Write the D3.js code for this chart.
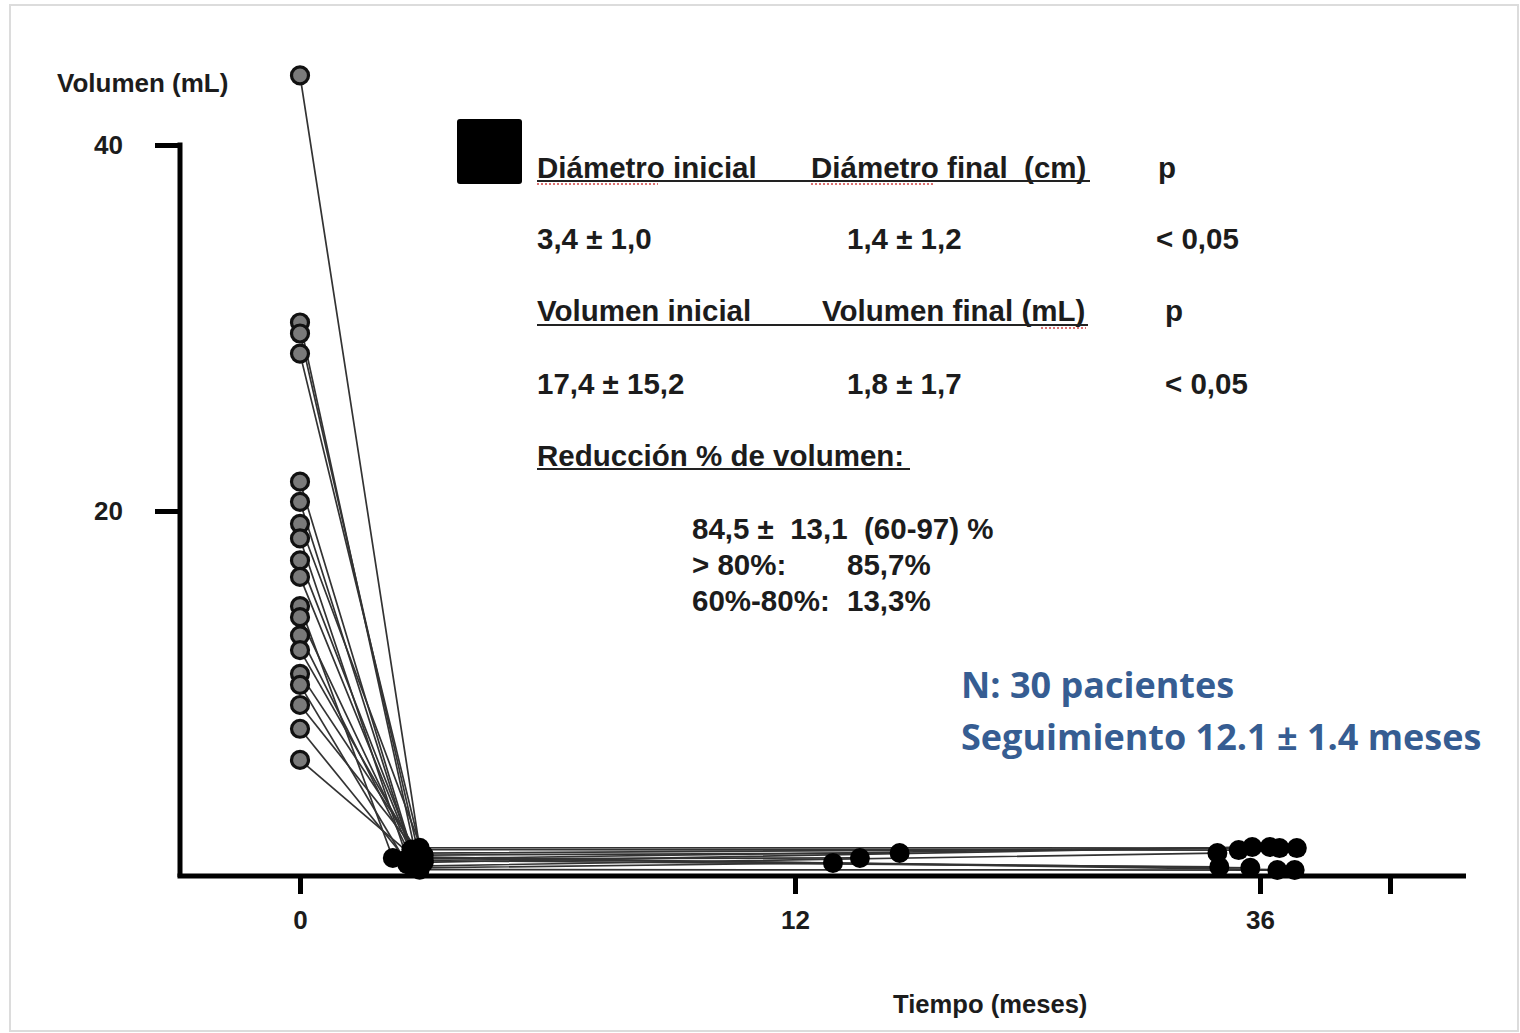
<!DOCTYPE html>
<html>
<head>
<meta charset="utf-8">
<script src="https://cdn.jsdelivr.net/npm/d3@7"></script>
<style>
  html, body { margin: 0; padding: 0; background: #ffffff; }
  svg { display: block; }
</style>
</head>
<body>
<svg id="chart" width="1520" height="1033"></svg>
<script>
// ---------------- DATA ----------------
const patientIds     = ["P1","P2","P3","P4","P5","P6","P7","P8","P9","P10","P11","P12","P13","P14","P15","P16","P17","P18","P19"];
// volume (mL) at time 0
const initialVolume  = [43.8, 30.3, 29.7, 28.6, 21.6, 20.5, 19.3, 18.5, 17.3, 16.4, 14.8, 14.2, 13.2, 12.4, 11.1, 10.5, 9.4, 8.1, 6.4];
// first control (months, mL)
const earlyMonth     = [2.9, 2.8, 2.9, 3.0, 2.7, 2.8, 3.0, 2.6, 2.9, 2.8, 2.25, 2.9, 2.7, 2.8, 3.0, 2.6, 2.9, 2.7, 2.8];
const earlyVolume    = [1.6, 1.3, 1.0, 0.8, 1.5, 0.6, 1.2, 1.0, 0.5, 0.9, 1.04, 0.4, 1.1, 1.4, 0.9, 0.7, 1.2, 0.6, 1.0];
// last control (months, mL) — null when not available
const lateMonth      = [39.4, 37.8, 36.9, 35.6, 34.9, 33.8, 17.4, 15.35, 13.96, 33.9, 35.5, 37.6, 39.2, null, null, null, null, null, null];
const lateVolume     = [1.58, 1.58, 1.64, 1.64, 1.47, 1.31, 1.31, 1.04, 0.77, 0.55, 0.50, 0.38, 0.38, null, null, null, null, null, null];

const xTickValues = [0, 12, 36, 48];
const xTickLabels = ["0", "12", "36", ""];
const yTickValues = [20, 40];
const yTickLabels = ["20", "40"];

const statRows = [
  ["Diámetro inicial", "Diámetro final  (cm)", "p"],
  ["3,4 ± 1,0", "1,4 ± 1,2", "< 0,05"],
  ["Volumen inicial", "Volumen final (mL)", "p"],
  ["17,4 ± 15,2", "1,8 ± 1,7", "< 0,05"]
];
const reductionTitle = "Reducción % de volumen:";
const reductionLines = [
  ["84,5 ±  13,1  (60-97) %", ""],
  ["> 80%:", "85,7%"],
  ["60%-80%:", "13,3%"]
];
const noteLines = ["N: 30 pacientes", "Seguimiento 12.1 ± 1.4 meses"];
const yAxisTitle = "Volumen (mL)";
const xAxisTitle = "Tiempo (meses)";

// ---------------- LAYOUT ----------------
const svg = d3.select("#chart");
const FONT = "'Liberation Sans', Arial, sans-serif";
const INK = "#1c1c1c";

// piecewise (broken) time axis as in the original figure
const x = d3.scaleLinear()
  .domain([-2.91, 0, 12, 36, 48, 55])
  .range([180, 300, 795, 1260, 1390, 1466]);
const y = d3.scaleLinear().domain([0, 40]).range([877, 145]);

// page frame
svg.append("rect")
  .attr("x", 10).attr("y", 5).attr("width", 1508).attr("height", 1026)
  .attr("fill", "#fff").attr("stroke", "#dcdcdc").attr("stroke-width", 2);

// ---------------- AXES ----------------
const gx = svg.append("g").attr("transform", `translate(0,${y(0)})`)
  .call(d3.axisBottom(x).tickValues(xTickValues)
    .tickFormat((d, i) => xTickLabels[i]).tickSize(17).tickPadding(17));
gx.select(".domain").remove();
gx.selectAll(".tick line").attr("stroke", "#000").attr("stroke-width", 5);
gx.selectAll(".tick text").attr("fill", INK).attr("font-family", FONT)
  .attr("font-weight", "bold").attr("font-size", 26);

const gy = svg.append("g").attr("transform", `translate(${x(-2.91)},0)`)
  .call(d3.axisLeft(y).tickValues(yTickValues)
    .tickFormat((d, i) => yTickLabels[i]).tickSize(25).tickPadding(32));
gy.select(".domain").remove();
gy.selectAll(".tick line").attr("stroke", "#000").attr("stroke-width", 5);
gy.selectAll(".tick text").attr("fill", INK).attr("font-family", FONT)
  .attr("font-weight", "bold").attr("font-size", 26);

// axis lines
svg.append("line")
  .attr("x1", x(-2.91)).attr("x2", x(-2.91)).attr("y1", y(40) - 2.5).attr("y2", y(0))
  .attr("stroke", "#000").attr("stroke-width", 5);
svg.append("line")
  .attr("x1", x(-2.91) - 2.5).attr("x2", x(55)).attr("y1", y(0) - 1).attr("y2", y(0) - 1)
  .attr("stroke", "#000").attr("stroke-width", 5);

svg.append("text").attr("x", 57).attr("y", 92).text(yAxisTitle)
  .attr("font-family", FONT).attr("font-weight", "bold").attr("font-size", 26).attr("fill", INK);
svg.append("text").attr("x", 893).attr("y", 1013).text(xAxisTitle)
  .attr("font-family", FONT).attr("font-weight", "bold").attr("font-size", 25.6).attr("fill", INK);

// ---------------- MARKS ----------------
const patients = patientIds.map((id, i) => ({
  id, v0: initialVolume[i], t1: earlyMonth[i], v1: earlyVolume[i],
  t2: lateMonth[i], v2: lateVolume[i]
}));

const lineG = svg.append("g");
patients.forEach(p => {
  const pts = [[0, p.v0], [p.t1, p.v1]];
  if (p.t2 !== null) pts.push([p.t2, p.v2]);
  lineG.append("path")
    .attr("d", d3.line().x(d => x(d[0])).y(d => y(d[1]))(pts))
    .attr("fill", "none").attr("stroke", "#333").attr("stroke-width", 1.7);
});

const dotG = svg.append("g");
dotG.selectAll("circle.ini").data(patients).join("circle")
  .attr("class", "ini")
  .attr("cx", x(0)).attr("cy", d => y(d.v0)).attr("r", 8.5)
  .attr("fill", "#7a7a7a").attr("stroke", "#111").attr("stroke-width", 3.2);
dotG.selectAll("circle.early").data(patients).join("circle")
  .attr("class", "early")
  .attr("cx", d => x(d.t1)).attr("cy", d => y(d.v1)).attr("r", 10).attr("fill", "#000");
dotG.selectAll("circle.late").data(patients.filter(p => p.t2 !== null)).join("circle")
  .attr("class", "late")
  .attr("cx", d => x(d.t2)).attr("cy", d => y(d.v2)).attr("r", 10).attr("fill", "#000");

// ---------------- STATISTICS BLOCK ----------------
svg.append("rect").attr("x", 457).attr("y", 119).attr("width", 65).attr("height", 65)
  .attr("rx", 3).attr("fill", "#000");

const colX = [[537, 811, 1158], [537, 847, 1156], [537, 822, 1165], [537, 847, 1165]];
const rowY = [178, 249, 321, 394];
const st = svg.append("g").attr("font-family", FONT).attr("font-weight", "bold")
  .attr("font-size", 29.5).attr("fill", INK);
statRows.forEach((row, r) => {
  row.forEach((txt, c) => {
    st.append("text").attr("x", colX[r][c]).attr("y", rowY[r]).text(txt)
      .style("white-space", "pre").attr("xml:space", "preserve");
  });
});
// underlines of the header rows
[[537, 1090, 181], [537, 1088, 325], [537, 910, 469]].forEach(u => {
  svg.append("line").attr("x1", u[0]).attr("x2", u[1]).attr("y1", u[2]).attr("y2", u[2])
    .attr("stroke", "#222").attr("stroke-width", 2.2);
});
// spell-check squiggles from the original slide
[[537, 658, 184], [811, 933, 184], [1041, 1086, 328]].forEach(u => {
  svg.append("line").attr("x1", u[0]).attr("x2", u[1]).attr("y1", u[2]).attr("y2", u[2])
    .attr("stroke", "#d04040").attr("stroke-width", 1.3).attr("stroke-dasharray", "2,2");
});
st.append("text").attr("x", 537).attr("y", 466).text(reductionTitle);
const redY = [539, 575, 611];
reductionLines.forEach((row, r) => {
  st.append("text").attr("x", 692).attr("y", redY[r]).text(row[0])
    .style("white-space", "pre").attr("xml:space", "preserve");
  if (row[1]) st.append("text").attr("x", 847).attr("y", redY[r]).text(row[1]);
});

// ---------------- NOTE ----------------
const noteY = [698, 750];
noteLines.forEach((t, i) => {
  svg.append("text").attr("x", 961).attr("y", noteY[i]).text(t)
    .attr("font-family", "'Open Sans', sans-serif").attr("font-weight", "bold")
    .attr("font-size", 36).attr("fill", "#365d92");
});
</script>
</body>
</html>
